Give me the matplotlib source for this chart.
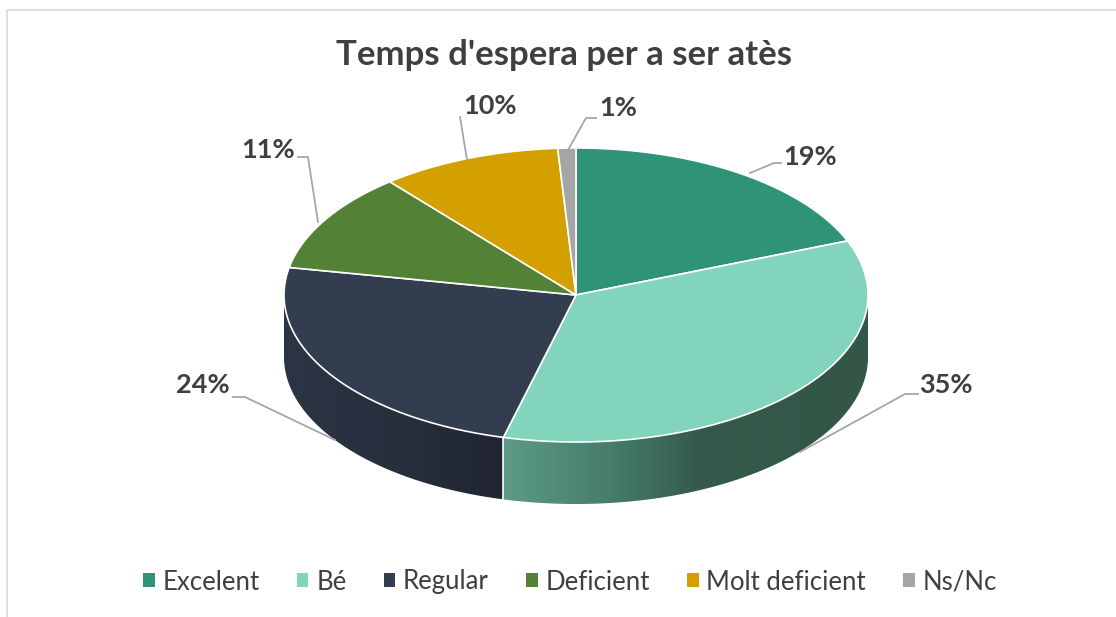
import numpy as np
import matplotlib.pyplot as plt
from matplotlib.patches import Polygon, Patch
from matplotlib.colors import to_rgb

# Data
categories = ["Excelent", "Bé", "Regular", "Deficient", "Molt deficient", "Ns/Nc"]
values = [19, 35, 24, 11, 10, 1]
top_colors = ["#2E9377", "#83D4BC", "#323D4F", "#538135", "#D4A000", "#A5A5A5"]
title = "Temps d'espera per a ser atès"

# Geometry of the tilted pie (pixels)
cx, cy = 576, 295
a, b = 292, 147
depth = 62

# Side wall shading stops along x for the visible walls
side_shades = {
    1: [(505, "#5C9B86"), (610, "#467D6B"), (700, "#355A4B"), (870, "#335646")],
    2: [(283, "#2C3544"), (400, "#272F3D"), (512, "#1F2430")],
}

W, H = 1116, 617
fig = plt.figure(figsize=(W / 100, H / 100), dpi=100)
ax = fig.add_axes([0, 0, 1, 1])
ax.set_xlim(0, W)
ax.set_ylim(H, 0)
ax.axis("off")

plt.rcParams["font.family"] = ["Lato", "DejaVu Sans"]
txt_color = "#3F3F3F"


def pt(theta, z=0.0):
    return cx + a * np.sin(theta), cy - b * np.cos(theta) + z


# cumulative angles, clockwise from 12 o'clock
fracs = np.array(values) / np.sum(values)
edges = np.concatenate([[0], np.cumsum(fracs)]) * 2 * np.pi

# side walls (front half only), gradient image clipped to the wall shape
for i in range(len(values)):
    t1, t2 = max(edges[i], np.pi / 2), min(edges[i + 1], 3 * np.pi / 2)
    if t2 <= t1:
        continue
    ts = np.linspace(t1, t2, 200)
    top = [pt(t) for t in ts]
    bot = [pt(t, depth) for t in ts[::-1]]
    wall = Polygon(top + bot, closed=True, facecolor="none", edgecolor="none")
    ax.add_patch(wall)
    xs_w = [p[0] for p in top]
    x0, x1 = min(xs_w), max(xs_w)
    y0 = min(p[1] for p in top)
    y1 = max(p[1] for p in bot)
    stops = side_shades.get(i, [(x0, top_colors[i]), (x1, top_colors[i])])
    gx = np.linspace(x0, x1, 400)
    scol = np.array([to_rgb(s[1]) for s in stops])
    grad = np.stack([np.interp(gx, [s[0] for s in stops], scol[:, k]) for k in range(3)], axis=-1)
    img = ax.imshow(grad[np.newaxis, :, :], extent=(x0, x1, y1, y0), aspect="auto",
                    interpolation="bilinear", zorder=1)
    img.set_clip_path(wall)

# white seam between the two visible walls
xs, ys = pt(edges[2])
ax.plot([xs, xs], [ys, ys + depth], color="white", lw=1.2, zorder=2)

# top surface
for i in range(len(values)):
    ts = np.linspace(edges[i], edges[i + 1], 200)
    poly = [(cx, cy)] + [pt(t) for t in ts]
    ax.add_patch(Polygon(poly, closed=True, facecolor=top_colors[i],
                         edgecolor="white", lw=1.2, joinstyle="round", zorder=3))

# data labels with leader lines
labels = [f"{v}%" for v in values]
label_pos = [(810, 157), (946, 385), (203, 385), (268, 150), (490, 106), (618, 108)]
leaders = [
    [(750, 173), (774, 163), (781, 163)],
    [(800, 452), (905, 394), (918, 394)],
    [(233, 397), (245, 397), (335, 440)],
    [(298, 157), (308, 157), (318, 222)],
    [(460, 117), (467, 160)],
    [(596, 118), (586, 118), (568, 150)],
]
for lab, (lx, ly), ld in zip(labels, label_pos, leaders):
    lxs, lys = zip(*ld)
    ax.plot(lxs, lys, color="#A6A6A6", lw=1.3, zorder=4)
    ax.text(lx, ly, lab, ha="center", va="center", fontsize=19.5,
            fontweight="bold", color=txt_color, zorder=5)

# title
ax.text(564, 55, title, ha="center", va="center", fontsize=25,
        fontweight="bold", color=txt_color)

# chart border (left and top only visible)
ax.plot([6.5, 6.5, W + 5], [H + 5, 9.5, 9.5], color="#D9D9D9", lw=1.2)

# legend
handles = [Patch(facecolor=c, edgecolor="none") for c in top_colors]
leg = ax.legend(handles, categories, loc="center", bbox_to_anchor=(570 / W, 1 - 582 / H),
                bbox_transform=fig.transFigure, ncol=6, frameon=False,
                fontsize=18.5, handlelength=0.45, handleheight=0.45, handletextpad=0.3,
                columnspacing=1.45, labelcolor=txt_color)

fig.savefig("out.png", dpi=100, facecolor="white")
